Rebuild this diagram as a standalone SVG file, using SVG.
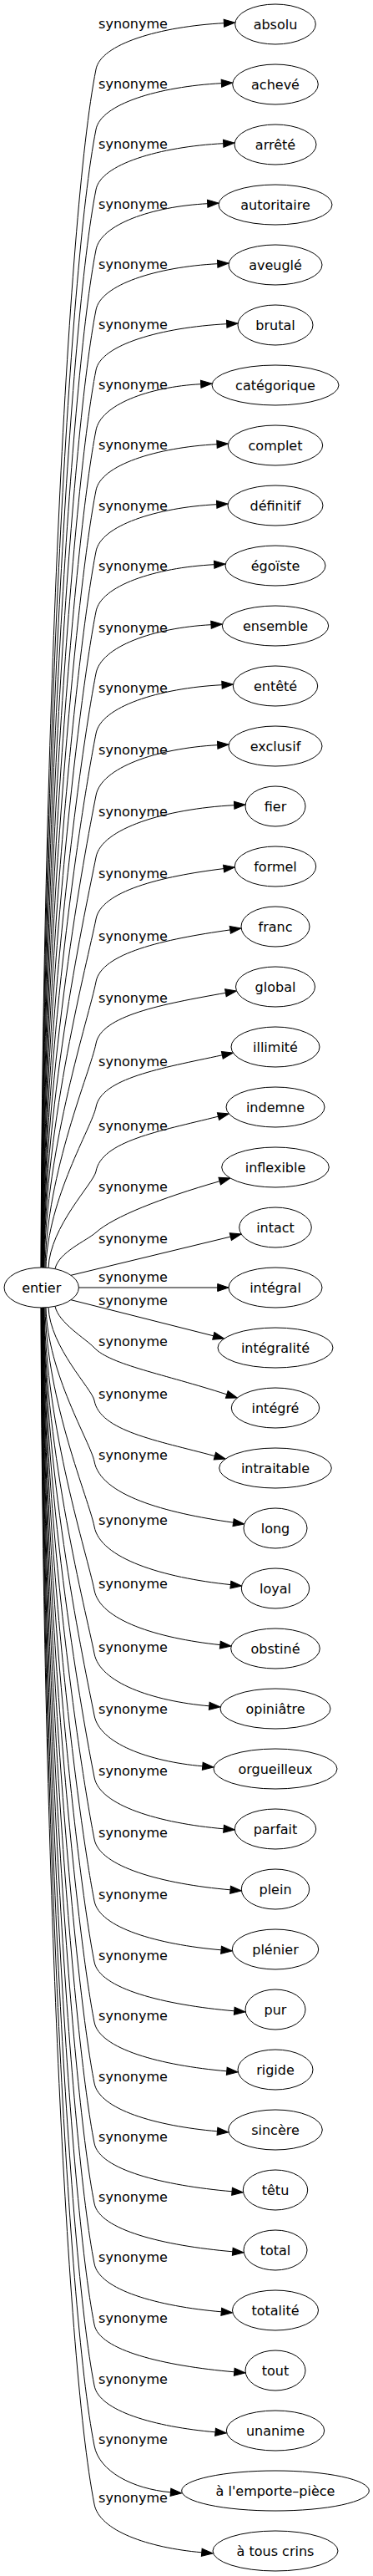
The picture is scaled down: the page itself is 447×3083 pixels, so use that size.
<svg xmlns="http://www.w3.org/2000/svg" width="447" height="3083" viewBox="0 0 447 3083">
<style>
text{font-family:"DejaVu Sans","Liberation Sans",sans-serif;font-size:16px;fill:#000}
.node ellipse{fill:#fff;stroke:#000;stroke-width:1}
.node text{text-anchor:middle}
.edge path{fill:none;stroke:#000;stroke-width:1;marker-end:url(#arr)}
.edge text{text-anchor:middle}
</style>
<defs>
<marker id="arr" viewBox="-1 -1 15.3 11" refX="0" refY="4.5" markerWidth="15.3" markerHeight="11" markerUnits="userSpaceOnUse" orient="auto" overflow="visible">
<path d="M0,0L13.3,4.5L0,9z" fill="#000" stroke="#000" stroke-width="1"/>
</marker>
</defs>
<rect width="447" height="3083" fill="#fff"/>
<g id="edges">
<g class="edge" id="e0"><path d="M49,1517 C51,900.4 80,260 115,83 C120.5,52.6 191.8,31.7 268.4,27.7"/><text x="159.5" y="33.5">synonyme</text></g>
<g class="edge" id="e1"><path d="M49.25,1517 C51.25,931.3 81.8,323.1 115,155 C120.5,124.6 190.3,103.6 265.4,99.7"/><text x="159.5" y="105.5">synonyme</text></g>
<g class="edge" id="e2"><path d="M49.5,1517 C51.5,962.3 83.5,386.2 115,227 C120.5,196.6 191.5,175.7 267.7,171.7"/><text x="159.5" y="177.5">synonyme</text></g>
<g class="edge" id="e3"><path d="M49.75,1517 C51.75,993.3 85.3,449.3 115,299 C120.5,268.6 181.9,247.2 248.7,243.7"/><text x="159.5" y="249.5">synonyme</text></g>
<g class="edge" id="e4"><path d="M50,1517 C52,1024.2 87,512.4 115,371 C120.5,340.6 188,319.5 260.7,315.7"/><text x="159.5" y="321.5">synonyme</text></g>
<g class="edge" id="e5"><path d="M50.25,1517 C52.25,1055.2 88.8,575.5 115,443 C120.5,412.6 193.5,391.8 271.7,387.7"/><text x="159.5" y="393.5">synonyme</text></g>
<g class="edge" id="e6"><path d="M50.5,1517 C52.5,1086.1 90.6,638.6 115,515 C120.5,484.6 177.9,463 240.7,459.7"/><text x="159.5" y="465.5">synonyme</text></g>
<g class="edge" id="e7"><path d="M50.75,1517 C52.75,1117.1 92.3,701.8 115,587 C120.5,556.6 187.6,535.5 260,531.7"/><text x="159.5" y="537.5">synonyme</text></g>
<g class="edge" id="e8"><path d="M51,1517 C53,1148.5 94.1,765.8 115,660 C120.6,629 187.4,607.5 259.7,603.7"/><text x="159.5" y="610.5">synonyme</text></g>
<g class="edge" id="e9"><path d="M51.25,1517 C53.25,1179.4 95.8,828.9 115,732 C120.6,701 185.9,679.4 256.7,675.7"/><text x="159.5" y="682.5">synonyme</text></g>
<g class="edge" id="e10"><path d="M51.5,1517 C53.5,1211.3 97.7,893.7 115,806 C120.8,773.9 184.1,751.3 253,747.7"/><text x="159.5" y="756.5">synonyme</text></g>
<g class="edge" id="e11"><path d="M51.75,1517 C53.75,1242.2 99.4,956.9 115,878 C120.8,845.9 190.6,823.6 266,819.7"/><text x="159.5" y="828.5">synonyme</text></g>
<g class="edge" id="e12"><path d="M52,1517 C54,1274 101.2,1021.7 115,952 C121,918.8 188,895.5 260.7,891.7"/><text x="159.5" y="902.5">synonyme</text></g>
<g class="edge" id="e13"><path d="M52.25,1517 C54.25,1305.9 103,1086.6 115,1026 C121.2,991.7 198,968 280.7,963.7"/><text x="159.5" y="976.5">synonyme</text></g>
<g class="edge" id="e14"><path d="M52.5,1517 C54.5,1337.7 104.8,1151.5 115,1100 C121,1066.8 192.2,1048.9 268.1,1039.6"/><text x="159.5" y="1050.5">synonyme</text></g>
<g class="edge" id="e15"><path d="M53,1517 C55,1370 106.7,1217.2 115,1175 C121.2,1140.8 196.2,1124.1 275.8,1112.9"/><text x="159.5" y="1125.5">synonyme</text></g>
<g class="edge" id="e16"><path d="M54,1517 C56,1401.8 108.5,1282.1 115,1249 C121.1,1215.6 193.9,1201.8 270.4,1188.3"/><text x="159.5" y="1199.5">synonyme</text></g>
<g class="edge" id="e17"><path d="M55,1517.2 C57,1434.4 110.3,1348.7 115,1325 C121.2,1290.8 192.3,1278.5 266.3,1262.8"/><text x="159.5" y="1275.5">synonyme</text></g>
<g class="edge" id="e18"><path d="M58,1517.4 C60,1467.5 112.2,1416.2 115,1402 C121.6,1365.8 190.4,1353.9 261.5,1336.2"/><text x="159.5" y="1352.5">synonyme</text></g>
<g class="edge" id="e19"><path d="M66,1518.7 C70,1498.7 103.8,1485 115,1475 C135.9,1456.4 192,1434.1 263.2,1413.7"/><text x="159.5" y="1425.5">synonyme</text></g>
<g class="edge" id="e20"><path d="M85,1526.3 L276.3,1480.1"/><text x="159.5" y="1487.5">synonyme</text></g>
<g class="edge" id="e21"><path d="M94.4,1541 L260.7,1541"/><text x="159.5" y="1533.5">synonyme</text></g>
<g class="edge" id="e22"><path d="M85,1555.7 L255.8,1598.8"/><text x="159.5" y="1561.5">synonyme</text></g>
<g class="edge" id="e23"><path d="M66,1563.3 C70,1583.3 102.7,1602.1 113,1613 C132.2,1633.4 196.3,1644.4 271.8,1668.9"/><text x="159.5" y="1610.5">synonyme</text></g>
<g class="edge" id="e24"><path d="M58,1564.6 C60,1612.5 110.3,1662.3 113,1676 C119.7,1712.6 187.7,1723.9 257.4,1742.6"/><text x="159.5" y="1673.5">synonyme</text></g>
<g class="edge" id="e25"><path d="M55,1564.8 C57,1644 108.5,1726.3 113,1749 C120.3,1789.3 197.1,1810.6 279.6,1822.2"/><text x="159.5" y="1746.5">synonyme</text></g>
<g class="edge" id="e26"><path d="M54,1565 C56,1677.7 106.6,1794.7 113,1827 C120,1865.3 195.1,1888.1 276.4,1896.6"/><text x="159.5" y="1824.5">synonyme</text></g>
<g class="edge" id="e27"><path d="M53,1565 C55,1710.3 104.8,1861.3 113,1903 C119.6,1939.1 188.8,1960.7 263.8,1968.6"/><text x="159.5" y="1900.5">synonyme</text></g>
<g class="edge" id="e28"><path d="M52.5,1565 C54.5,1743 102.9,1927.9 113,1979 C119.3,2013.5 182.1,2035.8 250.75,2041.8"/><text x="159.5" y="1976.5">synonyme</text></g>
<g class="edge" id="e29"><path d="M52.25,1565 C54.25,1774.8 101.1,1992.8 113,2053 C119.1,2086.4 178.1,2108.1 242.75,2113.8"/><text x="159.5" y="2050.5">synonyme</text></g>
<g class="edge" id="e30"><path d="M52,1565 C54,1806.7 99.3,2057.6 113,2127 C119.2,2161 190.85,2182 268.05,2188.8"/><text x="159.5" y="2124.5">synonyme</text></g>
<g class="edge" id="e31"><path d="M51.75,1565 C53.75,1838.5 97.5,2122.5 113,2201 C119.1,2234.4 194.85,2254.7 276.05,2261.8"/><text x="159.5" y="2198.5">synonyme</text></g>
<g class="edge" id="e32"><path d="M51.5,1565 C53.5,1870.3 95.7,2187.4 113,2275 C118.9,2307.3 189.35,2327.2 265.05,2333.8"/><text x="159.5" y="2272.5">synonyme</text></g>
<g class="edge" id="e33"><path d="M51.25,1565 C53.25,1901.7 93.9,2251.4 113,2348 C118.9,2380.3 197.15,2399.5 280.75,2406.8"/><text x="159.5" y="2345.5">synonyme</text></g>
<g class="edge" id="e34"><path d="M51,1565 C53,1932.7 92.1,2314.5 113,2420 C118.9,2452.3 192.65,2471.9 271.75,2478.8"/><text x="159.5" y="2417.5">synonyme</text></g>
<g class="edge" id="e35"><path d="M50.75,1565 C52.75,1964 90.4,2378.5 113,2493 C118.8,2524.8 187.05,2544.4 260.45,2550.8"/><text x="159.5" y="2490.5">synonyme</text></g>
<g class="edge" id="e36"><path d="M50.5,1565 C52.5,1995 88.6,2441.6 113,2565 C118.8,2596.8 195.85,2615.6 278.05,2622.8"/><text x="159.5" y="2562.5">synonyme</text></g>
<g class="edge" id="e37"><path d="M50.25,1565 C52.25,2026 86.8,2504.7 113,2637 C118.8,2668.8 196.15,2687.6 278.75,2694.8"/><text x="159.5" y="2634.5">synonyme</text></g>
<g class="edge" id="e38"><path d="M50,1565 C52,2056.9 85.1,2567.8 113,2709 C118.8,2740.8 189.45,2760.2 265.25,2766.8"/><text x="159.5" y="2706.5">synonyme</text></g>
<g class="edge" id="e39"><path d="M49.75,1565 C51.75,2088.3 83.3,2631.8 113,2782 C118.7,2813.2 197.15,2831.5 280.75,2838.8"/><text x="159.5" y="2779.5">synonyme</text></g>
<g class="edge" id="e40"><path d="M49.5,1565 C51.5,2119.7 81.5,2695.8 113,2855 C118.6,2885.7 185.85,2904.5 258.05,2910.8"/><text x="159.5" y="2852.5">synonyme</text></g>
<g class="edge" id="e41"><path d="M49.25,1565 C51.25,2150.7 79.8,2758.9 113,2927 C118.6,2957.7 158.95,2978.8 204.45,2982.8"/><text x="159.5" y="2924.5">synonyme</text></g>
<g class="edge" id="e42"><path d="M49,1565 C51,2180.8 78.1,2820.3 113,2997 C118.8,3028.8 177.55,3049.2 241.75,3054.8"/><text x="159.5" y="2994.5">synonyme</text></g>
</g>
<g class="node" id="n_entier"><ellipse cx="49.7" cy="1541" rx="44.7" ry="24"/><text x="49.7" y="1546.5">entier</text></g>
<g class="node" id="n0"><ellipse cx="330" cy="29" rx="48.3" ry="24"/><text x="330" y="34.5">absolu</text></g>
<g class="node" id="n1"><ellipse cx="330" cy="101" rx="51.3" ry="24"/><text x="330" y="106.5">achevé</text></g>
<g class="node" id="n2"><ellipse cx="330" cy="173" rx="49" ry="24"/><text x="330" y="178.5">arrêté</text></g>
<g class="node" id="n3"><ellipse cx="330" cy="245" rx="68" ry="24"/><text x="330" y="250.5">autoritaire</text></g>
<g class="node" id="n4"><ellipse cx="330" cy="317" rx="56" ry="24"/><text x="330" y="322.5">aveuglé</text></g>
<g class="node" id="n5"><ellipse cx="330" cy="389" rx="45" ry="24"/><text x="330" y="394.5">brutal</text></g>
<g class="node" id="n6"><ellipse cx="330" cy="461" rx="76" ry="24"/><text x="330" y="466.5">catégorique</text></g>
<g class="node" id="n7"><ellipse cx="330" cy="533" rx="56.7" ry="24"/><text x="330" y="538.5">complet</text></g>
<g class="node" id="n8"><ellipse cx="330" cy="605" rx="57" ry="24"/><text x="330" y="610.5">définitif</text></g>
<g class="node" id="n9"><ellipse cx="330" cy="677" rx="60" ry="24"/><text x="330" y="682.5">égoïste</text></g>
<g class="node" id="n10"><ellipse cx="330" cy="749" rx="63.7" ry="24"/><text x="330" y="754.5">ensemble</text></g>
<g class="node" id="n11"><ellipse cx="330" cy="821" rx="50.7" ry="24"/><text x="330" y="826.5">entêté</text></g>
<g class="node" id="n12"><ellipse cx="330" cy="893" rx="56" ry="24"/><text x="330" y="898.5">exclusif</text></g>
<g class="node" id="n13"><ellipse cx="330" cy="965" rx="36" ry="24"/><text x="330" y="970.5">fier</text></g>
<g class="node" id="n14"><ellipse cx="330" cy="1037" rx="48.7" ry="24"/><text x="330" y="1042.5">formel</text></g>
<g class="node" id="n15"><ellipse cx="330" cy="1109" rx="41" ry="24"/><text x="330" y="1114.5">franc</text></g>
<g class="node" id="n16"><ellipse cx="330" cy="1181" rx="47.5" ry="24"/><text x="330" y="1186.5">global</text></g>
<g class="node" id="n17"><ellipse cx="330" cy="1253" rx="53" ry="24"/><text x="330" y="1258.5">illimité</text></g>
<g class="node" id="n18"><ellipse cx="330" cy="1325" rx="59" ry="24"/><text x="330" y="1330.5">indemne</text></g>
<g class="node" id="n19"><ellipse cx="330" cy="1397" rx="64.3" ry="24"/><text x="330" y="1402.5">inflexible</text></g>
<g class="node" id="n20"><ellipse cx="330" cy="1469" rx="43.3" ry="24"/><text x="330" y="1474.5">intact</text></g>
<g class="node" id="n21"><ellipse cx="330" cy="1541" rx="56" ry="24"/><text x="330" y="1546.5">intégral</text></g>
<g class="node" id="n22"><ellipse cx="330" cy="1613" rx="69" ry="24"/><text x="330" y="1618.5">intégralité</text></g>
<g class="node" id="n23"><ellipse cx="330" cy="1685" rx="52.7" ry="24"/><text x="330" y="1690.5">intégré</text></g>
<g class="node" id="n24"><ellipse cx="330" cy="1757" rx="67.3" ry="24"/><text x="330" y="1762.5">intraitable</text></g>
<g class="node" id="n25"><ellipse cx="330" cy="1829" rx="38" ry="24"/><text x="330" y="1834.5">long</text></g>
<g class="node" id="n26"><ellipse cx="330" cy="1901" rx="40.7" ry="24"/><text x="330" y="1906.5">loyal</text></g>
<g class="node" id="n27"><ellipse cx="330" cy="1973" rx="53.3" ry="24"/><text x="330" y="1978.5">obstiné</text></g>
<g class="node" id="n28"><ellipse cx="330" cy="2045" rx="66" ry="24"/><text x="330" y="2050.5">opiniâtre</text></g>
<g class="node" id="n29"><ellipse cx="330" cy="2117" rx="74" ry="24"/><text x="330" y="2122.5">orgueilleux</text></g>
<g class="node" id="n30"><ellipse cx="330" cy="2189" rx="48.7" ry="24"/><text x="330" y="2194.5">parfait</text></g>
<g class="node" id="n31"><ellipse cx="330" cy="2261" rx="40.7" ry="24"/><text x="330" y="2266.5">plein</text></g>
<g class="node" id="n32"><ellipse cx="330" cy="2333" rx="51.7" ry="24"/><text x="330" y="2338.5">plénier</text></g>
<g class="node" id="n33"><ellipse cx="330" cy="2405" rx="36" ry="24"/><text x="330" y="2410.5">pur</text></g>
<g class="node" id="n34"><ellipse cx="330" cy="2477" rx="45" ry="24"/><text x="330" y="2482.5">rigide</text></g>
<g class="node" id="n35"><ellipse cx="330" cy="2549" rx="56.3" ry="24"/><text x="330" y="2554.5">sincère</text></g>
<g class="node" id="n36"><ellipse cx="330" cy="2621" rx="38.7" ry="24"/><text x="330" y="2626.5">têtu</text></g>
<g class="node" id="n37"><ellipse cx="330" cy="2693" rx="38" ry="24"/><text x="330" y="2698.5">total</text></g>
<g class="node" id="n38"><ellipse cx="330" cy="2765" rx="51.5" ry="24"/><text x="330" y="2770.5">totalité</text></g>
<g class="node" id="n39"><ellipse cx="330" cy="2837" rx="36" ry="24"/><text x="330" y="2842.5">tout</text></g>
<g class="node" id="n40"><ellipse cx="330" cy="2909" rx="58.7" ry="24"/><text x="330" y="2914.5">unanime</text></g>
<g class="node" id="n41"><ellipse cx="330" cy="2981" rx="112.3" ry="24"/><text x="330" y="2986.5">à l'emporte–pièce</text></g>
<g class="node" id="n42"><ellipse cx="330" cy="3053" rx="75" ry="24"/><text x="330" y="3058.5">à tous crins</text></g>
</svg>
